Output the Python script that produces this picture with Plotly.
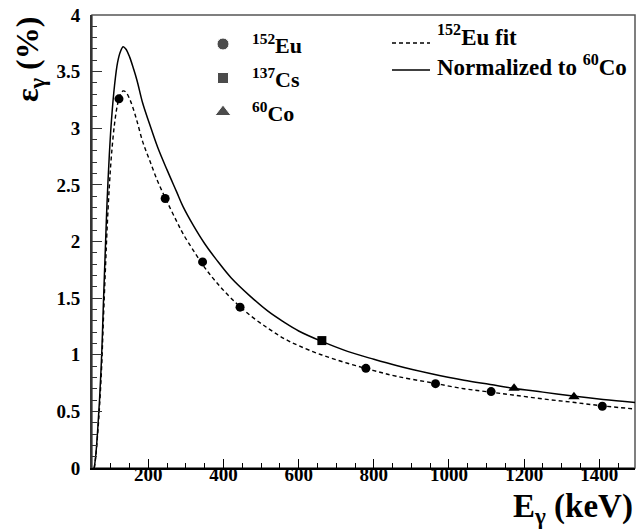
import plotly.graph_objects as go

# ---- data ----
eu_energy = [121.8, 244.7, 344.3, 444.0, 778.9, 964.1, 1112.1, 1408.0]
eu_eff = [3.26, 2.38, 1.82, 1.42, 0.88, 0.745, 0.675, 0.545]
cs_energy = [661.7]
cs_eff = [1.125]
co_energy = [1173.2, 1332.5]
co_eff = [0.705, 0.63]

curve_energy = [56, 60, 65, 70, 76, 80, 86, 90, 96, 102, 110, 118, 126, 133, 140, 150, 160, 170,
                185, 203, 225, 250, 275, 292, 320, 350, 381, 420, 470, 520, 560, 600, 660, 730,
                800, 860, 950, 1040, 1110, 1170, 1250, 1330, 1410, 1500]
eu_fit = [0, 0.1, 0.3, 0.54, 0.92, 1.28, 1.78, 2.1, 2.48, 2.77, 3.04, 3.21, 3.30, 3.33, 3.32,
          3.26, 3.17, 3.06, 2.88, 2.72, 2.53, 2.35, 2.18, 2.07, 1.92, 1.77, 1.64, 1.50, 1.35,
          1.23, 1.145, 1.08, 1.00, 0.925, 0.86, 0.81, 0.755, 0.70, 0.67, 0.645, 0.61, 0.58,
          0.548, 0.52]
norm_co = [0, 0.11, 0.33, 0.6, 1.02, 1.42, 1.98, 2.34, 2.76, 3.08, 3.38, 3.58, 3.68, 3.72, 3.70,
           3.63, 3.53, 3.42, 3.22, 3.04, 2.83, 2.63, 2.44, 2.31, 2.14, 1.98, 1.84, 1.68, 1.52,
           1.38, 1.29, 1.21, 1.12, 1.03, 0.96, 0.905, 0.835, 0.775, 0.738, 0.705, 0.67, 0.635,
           0.605, 0.578]

FONT = "Liberation Serif, Times New Roman, Times, serif"

fig = go.Figure()
fig.add_trace(go.Scatter(x=curve_energy, y=eu_fit, mode="lines", line=dict(color="black", width=1.4, dash="4px,3px"),
                         line_shape="spline"))
fig.add_trace(go.Scatter(x=curve_energy, y=norm_co, mode="lines", line=dict(color="black", width=1.5),
                         line_shape="spline"))
fig.add_trace(go.Scatter(x=eu_energy, y=eu_eff, mode="markers", marker=dict(symbol="circle", size=9, color="black")))
fig.add_trace(go.Scatter(x=cs_energy, y=cs_eff, mode="markers", marker=dict(symbol="square", size=9, color="black")))
fig.add_trace(go.Scatter(x=co_energy, y=co_eff, mode="markers", marker=dict(symbol="triangle-up", size=10, color="black")))

# legend keys on a pixel-coordinate overlay axis
fig.add_trace(go.Scatter(x=[223, 223, 223], y=[44, 78, 112], mode="markers", xaxis="x2", yaxis="y2",
                         marker=dict(symbol=["circle", "square", "triangle-up"], size=[12, 11, 14], color="black"),
                         cliponaxis=False))
# invisible trace to activate the label axis
fig.add_trace(go.Scatter(x=[eu_energy[0]], y=[eu_eff[0]], xaxis="x3", mode="markers",
                         marker=dict(opacity=0), hoverinfo="skip"))

tickfont = dict(family=FONT, size=19, color="black", weight="bold")

fig.update_layout(
    width=636, height=529,
    margin=dict(l=92, r=1, t=15, b=61),
    paper_bgcolor="white", plot_bgcolor="white",
    showlegend=False,
    font=dict(family=FONT),
    xaxis=dict(range=[50, 1495], tickmode="linear", tick0=0, dtick=200, ticks="inside", ticklen=9,
               tickwidth=1.2, tickcolor="black", showline=True, linecolor="black", linewidth=2,
               showgrid=False, zeroline=False, showticklabels=False,
               minor=dict(tickmode="linear", tick0=0, dtick=50, ticks="inside", ticklen=5,
                          tickcolor="black", tickwidth=1, showgrid=False)),
    xaxis3=dict(range=[50, 1495], matches="x", overlaying="x", anchor="free", position=0.0155,
                tickmode="linear", tick0=0, dtick=200, ticks="", showline=False, showgrid=False,
                zeroline=False, tickfont=tickfont),
    yaxis=dict(range=[0, 4], tickmode="linear", tick0=0, dtick=0.5, ticks="inside", ticklen=10,
               tickwidth=1.2, tickcolor="#333", showline=True, linecolor="#333", linewidth=2,
               showgrid=False, zeroline=False, tickfont=tickfont, ticklabelstandoff=6,
               minor=dict(tickmode="linear", tick0=0, dtick=0.1, ticks="inside", ticklen=5,
                          tickcolor="#333", tickwidth=1, showgrid=False)),
    xaxis2=dict(range=[92, 635], overlaying="x", visible=False, fixedrange=True),
    yaxis2=dict(range=[468, 15], overlaying="y", visible=False, fixedrange=True),
)

# frame
fig.add_shape(type="rect", xref="paper", yref="paper", x0=0, x1=1, y0=0, y1=1,
              line=dict(color="#555", width=1.5), layer="below")

# legend line samples
fig.add_shape(type="line", xref="x2", yref="y2", x0=392, x1=430, y0=43, y1=43,
              line=dict(color="black", width=1.4, dash="4px,3px"))
fig.add_shape(type="line", xref="x2", yref="y2", x0=392, x1=430, y0=70, y1=70,
              line=dict(color="black", width=1.5))

legfont_l = dict(family=FONT, size=22, color="black", weight="bold")
legfont_r = dict(family=FONT, size=23, color="black", weight="bold")
leg_items = [(250, 44, "<sup>152</sup>Eu", legfont_l), (250, 78, "<sup>137</sup>Cs", legfont_l),
             (250, 112, "<sup>60</sup>Co", legfont_l),
             (435, 35, "<sup>152</sup>Eu fit", legfont_r), (435, 65, "Normalized to <sup>60</sup>Co", legfont_r)]
for lx, ly, txt, fnt in leg_items:
    fig.add_annotation(x=lx, y=ly, xref="x2", yref="y2", text=txt, showarrow=False,
                       xanchor="left", yanchor="middle", font=fnt)

# axis titles
fig.add_annotation(x=1, y=-0.09, xref="paper", yref="paper", text="E<sub>γ</sub> (keV)", showarrow=False,
                   xanchor="right", yanchor="middle", font=dict(family=FONT, size=33, color="black", weight="bold"))
fig.add_annotation(x=-0.115, y=1, xref="paper", yref="paper", text="ε<sub>γ</sub> (%)", showarrow=False,
                   textangle=-90, xanchor="center", yanchor="top",
                   font=dict(family=FONT, size=32, color="black", weight="bold"))

fig.write_html("out.html")
